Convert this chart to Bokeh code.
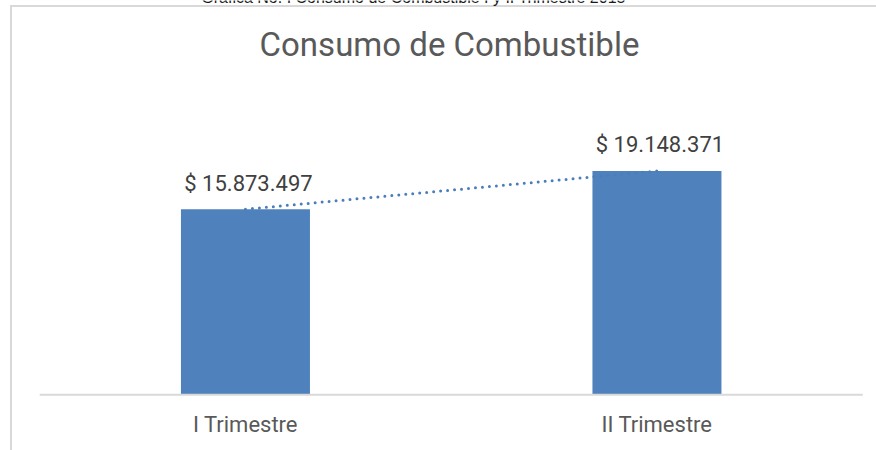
from bokeh.plotting import figure
from bokeh.models import Range1d, ColumnDataSource
from bokeh.embed import file_html
from bokeh.resources import INLINE
from bokeh.core.properties import value

# ---- data ----
categories = ["I Trimestre", "II Trimestre"]
consumo = [15873497, 19148371]
header_text = "Gráfica No. I Consumo de Combustible I y II Trimestre 2015"
chart_title = "Consumo de Combustible"

# ---- layout (pixel geometry of the canvas, style only) ----
W, H = 876, 450
X0_PX, UNIT_PX = 39.2, 411.5        # left end of category axis, px per category
Y0_PX, PX_PER_UNIT = 394.3, 11.69e-6  # baseline px, px per peso


def dx(px):
    return (px - X0_PX) / UNIT_PX


def dy(py):
    return (Y0_PX - py) / PX_PER_UNIT


BAR = "#4F81BD"
FONT = "Roboto"

pos = [i + 0.5 for i in range(len(categories))]
labels = ["$ " + f"{v:,}".replace(",", ".") for v in consumo]
source = ColumnDataSource(dict(x=pos, cat=categories, val=consumo, lab=labels,
                               zero=[0] * len(categories)))

p = figure(width=W, height=H, x_range=Range1d(dx(0), dx(W)), y_range=Range1d(dy(H), dy(0)),
           x_axis_type=None, y_axis_type=None,
           output_backend="svg", toolbar_location=None, min_border=0)
p.outline_line_color = None
p.xgrid.visible = False
p.ygrid.visible = False

# chart border (top and left), starting at the chart's corner
p.segment(x0=[dx(9.5), dx(10.5)], y0=[dy(5.5), dy(4.5)],
          x1=[dx(W), dx(10.5)], y1=[dy(5.5), dy(H)],
          line_color="#d9d9d9", line_width=2)

# bars
p.vbar(x="x", top="val", width=0.3135, source=source, fill_color=BAR, line_color=None)

# category axis line
p.segment(x0=0, y0=0, x1=len(categories), y1=0, line_color="#d9d9d9", line_width=2)

# linear trend line (dotted)
p.line(x="x", y="val", source=source, line_color="#4a7ebb", line_width=3,
       line_dash="0 7", line_cap="round")

# data labels
p.text(x="x", y="val", text="lab", source=source, text_align="center",
       text_baseline="alphabetic", y_offset=-26, x_offset=3,
       text_font=value(FONT), text_font_size="22px", text_color="#404040")

# category labels
p.text(x="x", y="zero", text="cat", source=source, text_align="center",
       text_baseline="alphabetic", y_offset=30,
       text_font=value(FONT), text_font_size="22px", text_color="#595959")

# chart title
p.text(x=[dx(449)], y=[dy(43.5)], text=[chart_title], text_align="center",
       text_baseline="alphabetic", text_font=value(FONT), text_font_size="33px",
       text_color="#595959")

# page header (cut at the top edge, as in the reference)
p.text(x=[dx(413)], y=[dy(-3.5)], text=[header_text], text_align="center",
       text_baseline="alphabetic", text_font=value("Liberation Sans"),
       text_font_size="16px", text_color="#1a1a1a")

open("out.html", "w").write(file_html(p, INLINE))
